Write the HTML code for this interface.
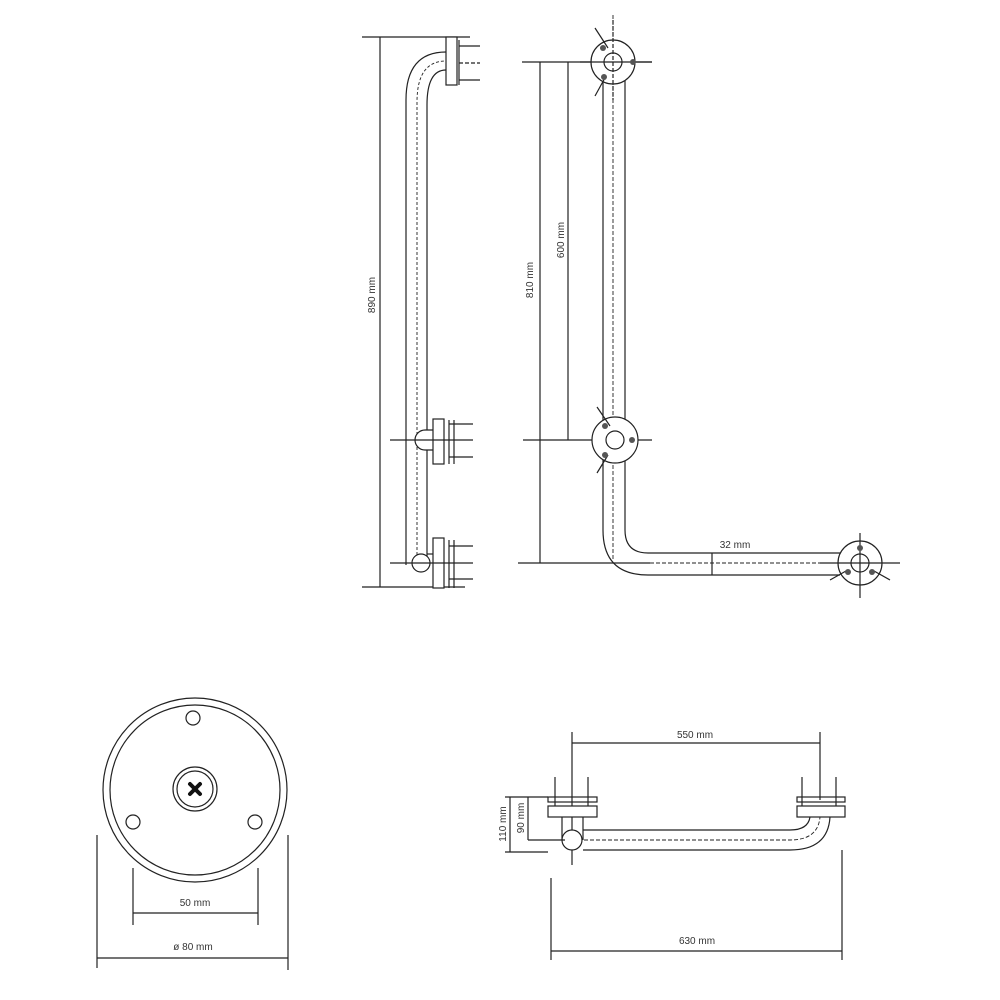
<!DOCTYPE html>
<html><head><meta charset="utf-8"><style>
html,body{margin:0;padding:0;background:#fff}
svg{display:block}
text{font-family:"Liberation Sans",sans-serif;font-size:10px;fill:#333}
</style></head><body>
<svg width="1000" height="1000" viewBox="0 0 1000 1000" xmlns="http://www.w3.org/2000/svg">
<g stroke="#222" stroke-width="1.2" fill="none">
<!-- SIDE VIEW -->
<line x1="362" y1="37" x2="470" y2="37"/>
<line x1="380" y1="37" x2="380" y2="587"/>
<line x1="362" y1="587" x2="465" y2="587"/>
<path d="M406 565 V100 Q406 52 446 52"/>
<path d="M427 565 V105 Q427 70 446 70"/>
<path d="M417 565 V102 Q417 61 446 61" stroke-dasharray="3,2" stroke-width="0.9"/>
<rect x="446" y="37" width="11" height="48" fill="#fff"/>
<line x1="459" y1="40" x2="459" y2="85"/>
<line x1="459" y1="46" x2="480" y2="46"/><line x1="459" y1="63" x2="480" y2="63" stroke-dasharray="4,2"/><line x1="459" y1="80" x2="480" y2="80"/>
<!-- middle flange -->
<path d="M433 430 H425 A10 10 0 0 0 425 450 H433" fill="#fff"/>
<rect x="433" y="419" width="11" height="45" fill="#fff"/>
<line x1="449" y1="420" x2="449" y2="464"/><line x1="454" y1="420" x2="454" y2="464"/>
<line x1="390" y1="440" x2="473" y2="440"/>
<line x1="449" y1="424" x2="473" y2="424"/><line x1="449" y1="457" x2="473" y2="457"/>
<!-- bottom flange -->
<rect x="433" y="538" width="11" height="50" fill="#fff"/>
<line x1="449" y1="540" x2="449" y2="588"/><line x1="454" y1="540" x2="454" y2="588"/>
<circle cx="421" cy="563" r="9" fill="#fff"/>
<line x1="390" y1="563" x2="473" y2="563"/>
<line x1="449" y1="546" x2="473" y2="546"/><line x1="449" y1="579" x2="473" y2="579"/>
<line x1="427" y1="554" x2="433" y2="554"/>

<!-- FRONT VIEW -->
<line x1="613" y1="15" x2="613" y2="560" stroke-dasharray="4,2" stroke-width="0.9"/>
<line x1="614" y1="563" x2="900" y2="563" stroke-dasharray="4,2" stroke-width="0.9"/>
<path d="M603 75 V530 Q603 575 648 575 H840"/>
<path d="M625 75 V530 Q625 553 648 553 H840"/>
<line x1="522" y1="62" x2="652" y2="62"/>
<line x1="523" y1="440" x2="652" y2="440"/>
<line x1="518" y1="563" x2="650" y2="563"/>
<line x1="540" y1="62" x2="540" y2="563"/>
<line x1="568" y1="62" x2="568" y2="440"/>
<line x1="712" y1="553" x2="712" y2="575"/>
<circle cx="613" cy="62" r="22" fill="#fff"/><circle cx="613" cy="62" r="9"/>
<circle cx="615" cy="440" r="23" fill="#fff"/><circle cx="615" cy="440" r="9"/>
<circle cx="860" cy="563" r="22" fill="#fff"/><circle cx="860" cy="563" r="9"/>
<line x1="595" y1="28" x2="608" y2="48"/><line x1="595" y1="96" x2="606" y2="76"/>
<line x1="597" y1="407" x2="610" y2="426"/><line x1="597" y1="473" x2="608" y2="455"/>
<line x1="860" y1="533" x2="860" y2="598"/>
<line x1="830" y1="580" x2="846" y2="571"/><line x1="890" y1="580" x2="874" y2="571"/>
<line x1="820" y1="563" x2="900" y2="563"/>
<line x1="613" y1="20" x2="613" y2="100" stroke-dasharray="4,2"/>
<line x1="580" y1="62" x2="652" y2="62"/>
</g>
<g fill="#555">
<circle cx="603" cy="48" r="3"/><circle cx="604" cy="77" r="3"/><circle cx="633" cy="62" r="3"/>
<circle cx="605" cy="426" r="3"/><circle cx="605" cy="455" r="3"/><circle cx="632" cy="440" r="3"/>
<circle cx="860" cy="548" r="3"/><circle cx="848" cy="572" r="3"/><circle cx="872" cy="572" r="3"/>
</g>
<text transform="translate(375,295) rotate(-90)" text-anchor="middle">890 mm</text>
<text transform="translate(533,280) rotate(-90)" text-anchor="middle">810 mm</text>
<text transform="translate(564,240) rotate(-90)" text-anchor="middle">600 mm</text>
<text x="735" y="548" text-anchor="middle">32 mm</text>

<!-- ROUND PLATE -->
<g stroke="#222" stroke-width="1.2" fill="none">
<circle cx="195" cy="790" r="92"/><circle cx="195" cy="790" r="85"/>
<circle cx="193" cy="718" r="7"/><circle cx="133" cy="822" r="7"/><circle cx="255" cy="822" r="7"/>
<circle cx="195" cy="789" r="22"/><circle cx="195" cy="789" r="18"/>
<line x1="133" y1="868" x2="133" y2="925"/><line x1="258" y1="868" x2="258" y2="925"/>
<line x1="133" y1="913" x2="258" y2="913"/>
<line x1="97" y1="835" x2="97" y2="968"/><line x1="288" y1="835" x2="288" y2="970"/>
<line x1="97" y1="958" x2="288" y2="958"/>
</g>
<g stroke="#111" stroke-width="4" stroke-linecap="round"><line x1="190" y1="784" x2="200" y2="794"/><line x1="200" y1="784" x2="190" y2="794"/></g>
<text x="195" y="906" text-anchor="middle">50 mm</text>
<text x="193" y="950" text-anchor="middle">ø 80 mm</text>

<!-- TOP VIEW -->
<g stroke="#222" stroke-width="1.2" fill="none">
<line x1="572" y1="743" x2="820" y2="743"/>
<line x1="572" y1="732" x2="572" y2="865"/><line x1="820" y1="732" x2="820" y2="800"/>
<path d="M583 830 H790 Q808 830 810 817"/>
<path d="M583 850 H790 Q828 850 830 817"/>
<path d="M572 840 H790 Q818 840 820 817" stroke-dasharray="4,2" stroke-width="0.9"/>
<rect x="548" y="806" width="49" height="11" fill="#fff"/>
<rect x="548" y="797" width="49" height="5"/>
<rect x="797" y="806" width="48" height="11" fill="#fff"/>
<rect x="797" y="797" width="48" height="5"/>
<line x1="555" y1="777" x2="555" y2="806"/><line x1="588" y1="777" x2="588" y2="806"/>
<line x1="802" y1="777" x2="802" y2="806"/><line x1="836" y1="777" x2="836" y2="806"/>
<line x1="562" y1="817" x2="562" y2="840"/><line x1="583" y1="817" x2="583" y2="840"/>
<circle cx="572" cy="840" r="10" fill="#fff"/>
<line x1="510" y1="797" x2="510" y2="852"/><line x1="528" y1="797" x2="528" y2="840"/>
<line x1="505" y1="797" x2="548" y2="797"/><line x1="505" y1="852" x2="548" y2="852"/>
<line x1="528" y1="840" x2="565" y2="840"/>
<line x1="551" y1="878" x2="551" y2="960"/><line x1="842" y1="850" x2="842" y2="960"/>
<line x1="551" y1="951" x2="842" y2="951"/>
</g>
<text x="695" y="738" text-anchor="middle">550 mm</text>
<text transform="translate(506,824) rotate(-90)" text-anchor="middle">110 mm</text>
<text transform="translate(524,818) rotate(-90)" text-anchor="middle">90 mm</text>
<text x="697" y="944" text-anchor="middle">630 mm</text>
</svg>
</body></html>
